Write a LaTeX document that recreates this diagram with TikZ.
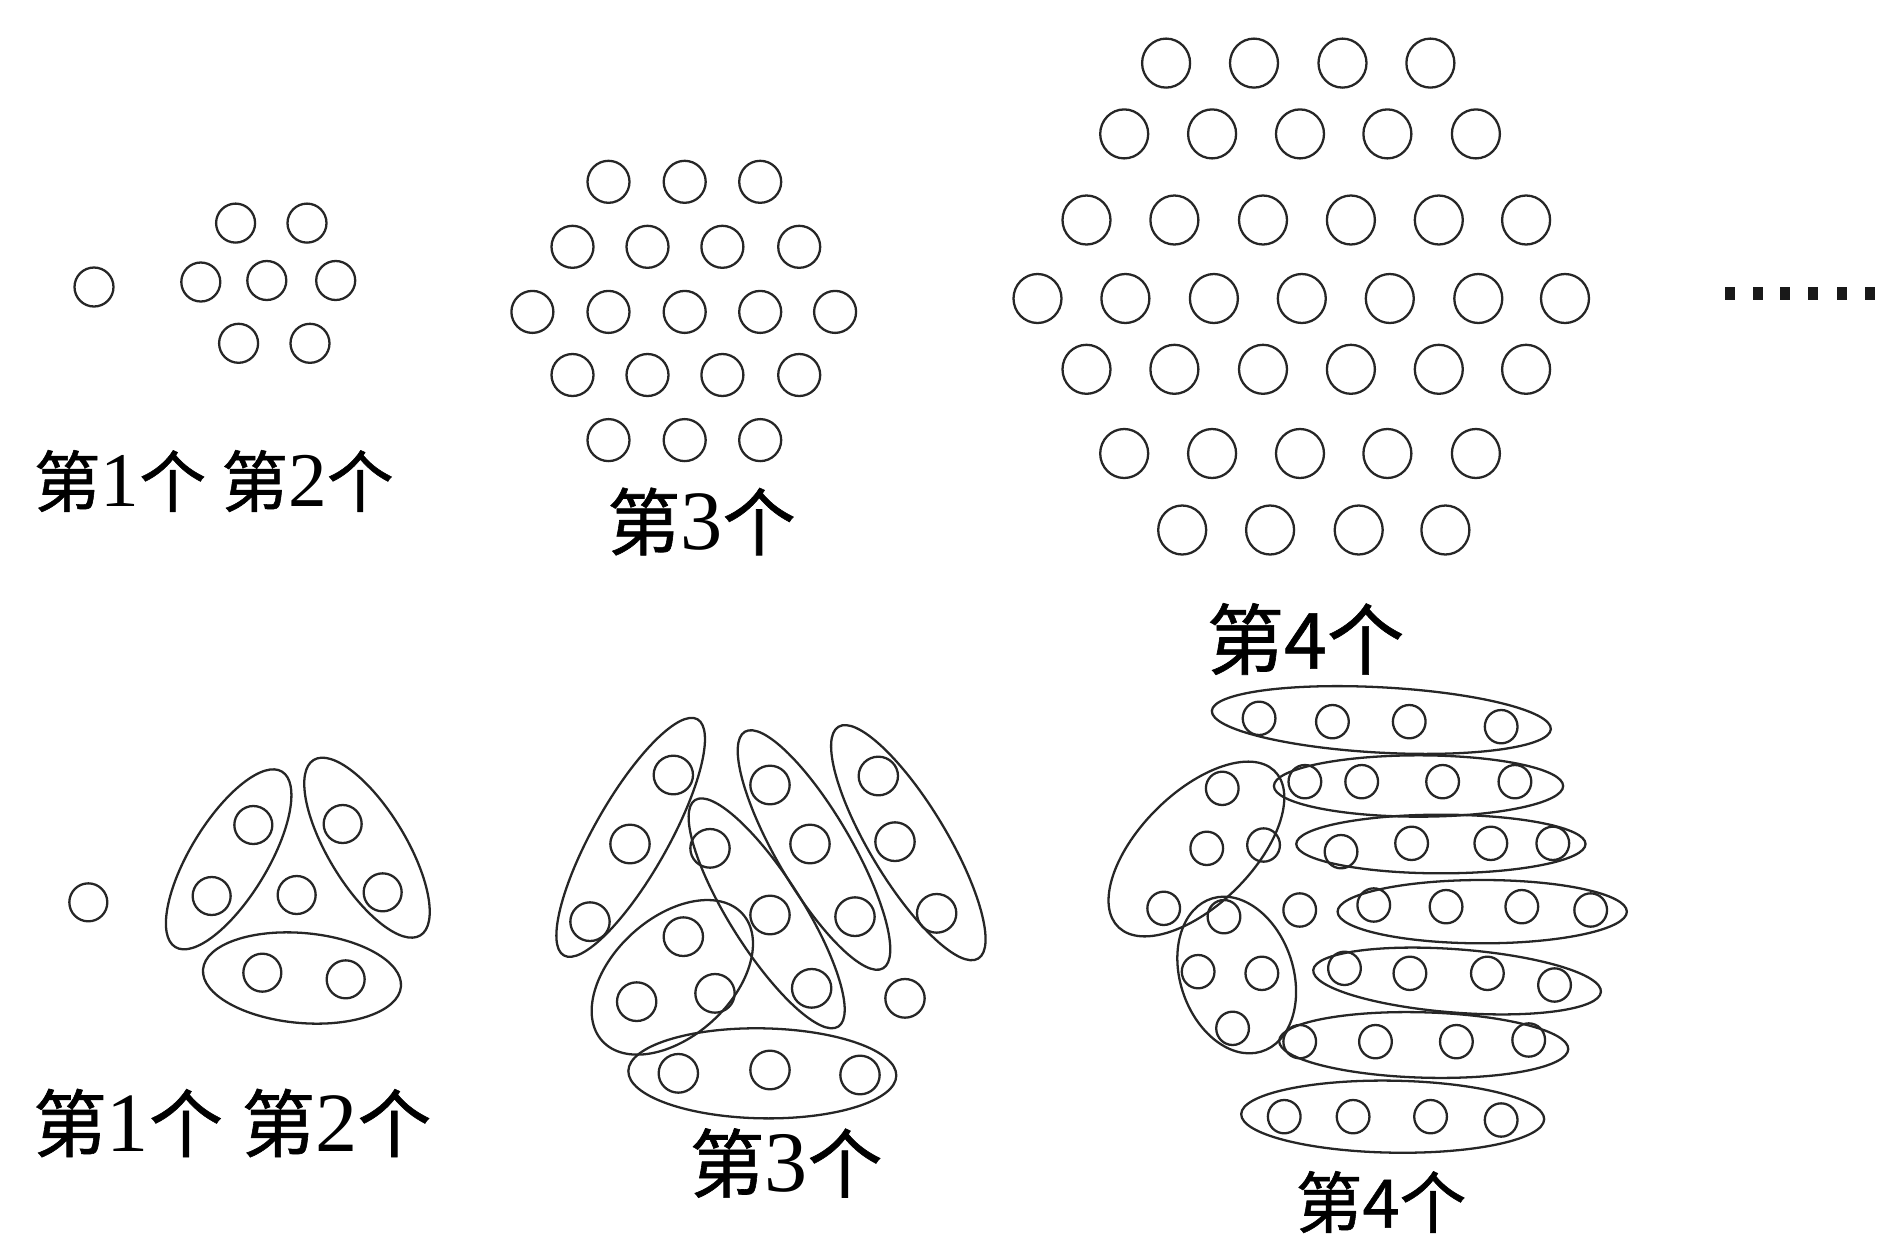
\documentclass[tikz,border=0pt]{standalone}
\usepackage{fontspec}
\setmainfont{Liberation Serif}
\newfontfamily\cjk[FakeBold=0.8]{Noto Sans CJK SC}
\newcommand{\serlab}[3]{\fontsize{#1}{#1}\selectfont{\cjk 第}{\fontsize{#2}{#2}\selectfont #3}{\cjk 个}}
\newcommand{\sanslab}[2]{\fontsize{#1}{#1}\selectfont\cjk 第#2个}
\begin{document}
\begin{tikzpicture}[x=0.01cm,y=-0.01cm,line width=0.65pt,
  ring/.style={draw=black!85},
  grp/.style={draw=black!85},
  txt/.style={inner sep=0pt,text=black},
  dotsq/.style={fill=black!90,draw=none}]
\useasboundingbox (0,0) rectangle (1878,1236);

% ===== top row =====
% figure 1
\draw[ring] (94,287) circle [radius=19.5];
% figure 2
\foreach \x/\y in {235.6/223.1,307/223.1,200.8/282,266.8/280.5,335.7/280.5,238.6/343.3,310/343.3}
  \draw[ring] (\x,\y) circle [radius=19.5];
% figure 3
\foreach \x in {608.5,684.7,760.2} {
  \draw[ring] (\x,181.8) circle [radius=21];
  \draw[ring] (\x,440.1) circle [radius=21];}
\foreach \x in {572.5,647.5,722.4,799.2} {
  \draw[ring] (\x,246.8) circle [radius=21];
  \draw[ring] (\x,375) circle [radius=21];}
\foreach \x in {532.4,608.5,684.7,760.2,835.1}
  \draw[ring] (\x,311.9) circle [radius=21];
% figure 4
\foreach \x in {1166.1,1254,1342.5,1430.4}
  \draw[ring] (\x,63.1) ellipse [x radius=24,y radius=24.5];
\foreach \x in {1124.2,1212.1,1300,1387.4,1475.9} {
  \draw[ring] (\x,133.9) ellipse [x radius=24,y radius=24.5];
  \draw[ring] (\x,453.5) ellipse [x radius=24,y radius=24.5];}
\foreach \x in {1086.5,1174.4,1263,1350.9,1438.8,1526.1} {
  \draw[ring] (\x,220) ellipse [x radius=24,y radius=24.5];
  \draw[ring] (\x,369.3) ellipse [x radius=24,y radius=24.5];}
\foreach \x in {1037.5,1125.4,1213.9,1301.8,1389.8,1478.3,1565}
  \draw[ring] (\x,298.5) ellipse [x radius=24,y radius=24.5];
\foreach \x in {1182.2,1270.1,1358.7,1445.4}
  \draw[ring] (\x,530) ellipse [x radius=24,y radius=24.5];
% dots
\foreach \x in {1730,1758.3,1785,1813.3,1841.7,1870}
  \fill[dotsq] (\x-5,287) rectangle (\x+5,300);

% top labels
\node[txt] (ta) at (120,481) {\serlab{19pt}{22pt}{1}};
\node[txt] (tb) at (307.5,481) {\serlab{19pt}{22pt}{2}};
\node[txt] (tc) at (701.5,521.5) {\serlab{20.8pt}{24pt}{3}};
\node[txt] (td) at (1305.5,639) {\sanslab{22pt}{4}};

% ===== bottom row =====
% figure 1 and 2
\begin{scope}[shift={(60,740)},scale=0.33333]
  \foreach \x/\y in {85/487,580/255,455/468,710/465,848/252,968/457,607/698,857/718}
    \draw[ring] (\x,\y) circle [radius=57];
  \draw[grp,rotate around={58.7:(506,358)}] (506,358) ellipse [x radius=308,y radius=116];
  \draw[grp,rotate around={-58.7:(921,323)}] (921,323) ellipse [x radius=308,y radius=116];
  \draw[grp,rotate around={-5:(726,714)}] (726,714) ellipse [x radius=298,y radius=135];
\end{scope}

% figure 3
\begin{scope}[shift={(540,700)},scale=0.33333]
  \foreach \x/\y in {400/225,270/432,150/665,690/255,810/432,945/650,1015/228,1065/425,1190/640,
                     510/445,690/645,815/865,430/710,290/905,525/880,1095/895,415/1120,690/1110,960/1125}
    \draw[ring] (\x,\y) ellipse [x radius=59,y radius=58];
  \draw[grp,rotate around={60.5:(272,412)}] (272,412) ellipse [x radius=407,y radius=112];
  \draw[grp,rotate around={-59.7:(822,450)}] (822,450) ellipse [x radius=411,y radius=112];
  \draw[grp,rotate around={-58.9:(1105,428)}] (1105,428) ellipse [x radius=406,y radius=115];
  \draw[grp,rotate around={-57.7:(680,640)}] (680,640) ellipse [x radius=402,y radius=110];
  \draw[grp,rotate around={42.2:(397,832)}] (397,832) ellipse [x radius=284,y radius=178];
  \draw[grp,rotate around={-1:(667,1120)}] (667,1120) ellipse [x radius=402,y radius=135];
\end{scope}

% figure 4
\begin{scope}[shift={(1100,680)},xscale=0.34435,yscale=0.33333]
  \foreach \x/\y in {462/115,675/125,898/125,1165/140,
                     355/325,595/305,760/305,995/305,1205/305,
                     310/505,475/495,700/515,905/490,1135/490,1315/490,
                     185/685,360/710,580/690,795/675,1005/680,1225/680,1425/690,
                     285/875,470/880,710/865,900/880,1125/880,1320/915,
                     385/1045,580/1085,800/1085,1035/1085,1245/1080,
                     535/1310,735/1310,960/1310,1165/1320}
    \draw[ring] (\x,\y) ellipse [x radius=47.5,y radius=50];
  \draw[grp,rotate around={-3.2:(817,120)}] (817,120) ellipse [x radius=493,y radius=98];
  \draw[grp] (925,318) ellipse [x radius=420,y radius=92];
  \draw[grp] (990,492) ellipse [x radius=420,y radius=88];
  \draw[grp] (1110,695) ellipse [x radius=420,y radius=95];
  \draw[grp,rotate around={-4.5:(1037,903)}] (1037,903) ellipse [x radius=419,y radius=95];
  \draw[grp,rotate around={-1.7:(940,1095)}] (940,1095) ellipse [x radius=420,y radius=98];
  \draw[grp,rotate around={-1:(850,1310)}] (850,1310) ellipse [x radius=440,y radius=108];
  \draw[grp,rotate around={46.3:(280,507)}] (280,507) ellipse [x radius=326,y radius=166];
  \draw[grp,rotate around={-72.9:(397,885)}] (397,885) ellipse [x radius=240.6,y radius=164.5];
\end{scope}

% bottom labels
\node[txt] (ba) at (128,1123) {\serlab{21pt}{24pt}{1}};
\node[txt] (bb) at (336.4,1123) {\serlab{21pt}{24pt}{2}};
\node[txt] (bc) at (786,1163) {\serlab{21.3pt}{24.5pt}{3}};
\node[txt] (bd) at (1381,1202) {\sanslab{19pt}{4}};
\end{tikzpicture}
\end{document}
